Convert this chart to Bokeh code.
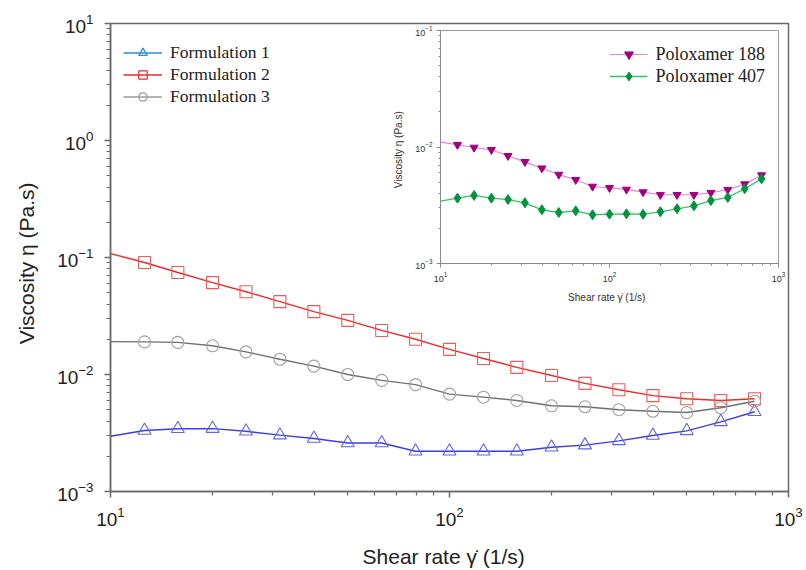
from bokeh.plotting import figure
from bokeh.models import FixedTicker, Legend, LegendItem, Range1d
from bokeh.embed import file_html
from bokeh.resources import INLINE

# ---------------- data ----------------
shear_rate = [10, 12.6, 15.8, 20, 25.1, 31.6, 39.8, 50.1, 63.1, 79.4,
              100, 126, 158, 200, 251, 316, 398, 501, 631, 794]

formulation_1 = [0.00297, 0.00332, 0.00344, 0.00345, 0.00327, 0.00303, 0.00284, 0.00260, 0.00260, 0.00221,
                 0.00221, 0.00221, 0.00221, 0.00239, 0.00249, 0.00271, 0.00301, 0.00330, 0.00394, 0.00480]
formulation_2 = [0.108, 0.0906, 0.0745, 0.0610, 0.0510, 0.0420, 0.0345, 0.0290, 0.0238, 0.0200,
                 0.0164, 0.0137, 0.0115, 0.0098, 0.0084, 0.0074, 0.0066, 0.0062, 0.0060, 0.0062]
formulation_3 = [0.0191, 0.0190, 0.0188, 0.0176, 0.0156, 0.0135, 0.0118, 0.0100, 0.0089, 0.0082,
                 0.0068, 0.0064, 0.0060, 0.0054, 0.0053, 0.0050, 0.00485, 0.00473, 0.0052, 0.0059]

poloxamer_188 = [0.0110, 0.01045, 0.0099, 0.00946, 0.0084, 0.00746, 0.00657, 0.0058, 0.00523, 0.00458,
                 0.00446, 0.00432, 0.0041, 0.00389, 0.00389, 0.00389, 0.00405, 0.0043, 0.0048, 0.00573]
poloxamer_407 = [0.00343, 0.00364, 0.00384, 0.00364, 0.00354, 0.00332, 0.00289, 0.00274, 0.00283, 0.00262,
                 0.00265, 0.00267, 0.00265, 0.00278, 0.00295, 0.00313, 0.00347, 0.00369, 0.00438, 0.00533]

series_labels = ["Formulation 1", "Formulation 2", "Formulation 3"]
inset_labels = ["Poloxamer 188", "Poloxamer 407"]

x_major = [10, 100, 1000]
main_y_major = [1e-3, 1e-2, 1e-1, 1, 10]
inset_y_major = [1e-3, 1e-2, 1e-1]


def minor_ticks(majors):
    return [m * majors[i] for i in range(len(majors) - 1) for m in range(2, 10)]


SANS = "Liberation Sans"
SERIF = "Liberation Serif"
W, H = 806, 570
NAN = float("nan")

# ---------------- main ----------------
p = figure(width=W, height=H, x_axis_type="log", y_axis_type="log",
           x_range=Range1d(10, 1000), y_range=Range1d(1e-3, 10),
           output_backend="svg", toolbar_location=None,
           min_border_left=110, min_border_right=18, min_border_top=23, min_border_bottom=79)
p.xgrid.visible = False
p.ygrid.visible = False
p.outline_line_color = "#6a6a6a"
p.outline_line_width = 1.5
p.xaxis.ticker = FixedTicker(ticks=x_major, minor_ticks=minor_ticks(x_major))
p.yaxis.ticker = FixedTicker(ticks=main_y_major, minor_ticks=minor_ticks(main_y_major))
for ax in (p.xaxis, p.yaxis):
    ax.axis_line_color = "#6a6a6a"
    ax.axis_line_width = 1.5
    ax.major_tick_line_color = "#6a6a6a"
    ax.minor_tick_line_color = "#6a6a6a"
    ax.major_tick_line_width = 1.5
    ax.minor_tick_line_width = 1.2
    ax.major_tick_out = 6
    ax.major_tick_in = 0
    ax.minor_tick_out = 4
    ax.minor_tick_in = 0
    ax.major_label_text_font = SANS
    ax.major_label_text_font_size = "19px"
    ax.major_label_text_color = "#222222"
    ax.axis_label_text_font = SANS
    ax.axis_label_text_font_size = "21px"
    ax.axis_label_text_font_style = "normal"
    ax.axis_label_text_color = "#222222"
p.xaxis.major_label_standoff = 9
p.yaxis.major_label_standoff = 11
p.xaxis.axis_label = "Shear rate  γ̇  (1/s)"
p.yaxis.axis_label = "Viscosity  η  (Pa.s)"
p.xaxis.axis_label_standoff = 16
p.yaxis.axis_label_standoff = 16

p.line(shear_rate, formulation_1, line_color="#3c3ce6", line_width=1.4)
p.scatter(shear_rate[1:], formulation_1[1:], marker="triangle", size=13,
          fill_color=None, line_color="#6262f0", line_width=1.1)
p.line(shear_rate, formulation_2, line_color="#ee2a2a", line_width=1.4)
p.scatter(shear_rate[1:], formulation_2[1:], marker="square", size=12,
          fill_color=None, line_color="#f05a5a", line_width=1.1)
p.line(shear_rate, formulation_3, line_color="#707070", line_width=1.4)
p.scatter(shear_rate[1:], formulation_3[1:], marker="circle", size=12,
          fill_color=None, line_color="#a0a0a0", line_width=1.1)

# legend swatches styled as in the original key (not drawn on the plot: NaN data)
k1l = p.line(x=[NAN], y=[NAN], line_color="#2a8fd6", line_width=1.4)
k1m = p.scatter(x=[NAN], y=[NAN], marker="triangle", fill_color=None, line_color="#2a8fd6", line_width=1.2)
k2l = p.line(x=[NAN], y=[NAN], line_color="#ee2a2a", line_width=1.4)
k2m = p.scatter(x=[NAN], y=[NAN], marker="square", fill_color=None, line_color="#ee2a2a", line_width=1.2)
k3l = p.line(x=[NAN], y=[NAN], line_color="#9a9a9a", line_width=1.4)
k3m = p.scatter(x=[NAN], y=[NAN], marker="circle", fill_color=None, line_color="#9a9a9a", line_width=1.2)

main_legend = Legend(items=[LegendItem(label=series_labels[0], renderers=[k1l, k1m]),
                            LegendItem(label=series_labels[1], renderers=[k2l, k2m]),
                            LegendItem(label=series_labels[2], renderers=[k3l, k3m])],
                     location=(13, 384), margin=0, padding=0, spacing=1,
                     label_height=21, glyph_height=21, glyph_width=39, label_standoff=8,
                     label_text_font=SERIF, label_text_font_size="17.5px", label_text_color="#222222",
                     border_line_alpha=0, background_fill_alpha=0)
p.add_layout(main_legend)

# ---------------- inset (same canvas size, overlaid on top, transparent) ----------------
inset = figure(width=W, height=H, x_axis_type="log", y_axis_type="log",
               x_range=Range1d(10, 1000), y_range=Range1d(1e-3, 1e-1),
               output_backend="svg", toolbar_location=None,
               min_border_left=440, min_border_right=28, min_border_top=30, min_border_bottom=307,
               styles={"position": "absolute", "top": "0px", "left": "0px"})
inset.background_fill_alpha = 0
inset.border_fill_alpha = 0
inset.xgrid.visible = False
inset.ygrid.visible = False
inset.outline_line_color = "#9a9a9a"
inset.outline_line_width = 1
inset.xaxis.ticker = FixedTicker(ticks=x_major, minor_ticks=minor_ticks(x_major))
inset.yaxis.ticker = FixedTicker(ticks=inset_y_major, minor_ticks=minor_ticks(inset_y_major))
for ax in (inset.xaxis, inset.yaxis):
    ax.axis_line_color = "#8a8a8a"
    ax.major_tick_line_color = "#8a8a8a"
    ax.minor_tick_line_color = "#8a8a8a"
    ax.major_tick_out = 4
    ax.major_tick_in = 0
    ax.minor_tick_out = 2
    ax.minor_tick_in = 0
    ax.major_label_text_font = SANS
    ax.major_label_text_font_size = "9px"
    ax.major_label_text_color = "#333333"
    ax.axis_label_text_font = SANS
    ax.axis_label_text_font_size = "10px"
    ax.axis_label_text_font_style = "normal"
    ax.axis_label_text_color = "#333333"
inset.xaxis.major_label_standoff = 4
inset.yaxis.major_label_standoff = 4
inset.xaxis.axis_label = "Shear rate  γ̇  (1/s)"
inset.yaxis.axis_label = "Viscosity  η  (Pa.s)"
inset.xaxis.axis_label_standoff = 7
inset.yaxis.axis_label_standoff = 8

l188 = inset.line(shear_rate, poloxamer_188, line_color="#f07fd2", line_width=1.2)
m188 = inset.scatter(shear_rate[1:], poloxamer_188[1:], marker="inverted_triangle", size=8,
                     fill_color="#a3007f", line_color="#a3007f")
l407 = inset.line(shear_rate, poloxamer_407, line_color="#2fc46a", line_width=1.3)
m407 = inset.scatter(shear_rate[1:], poloxamer_407[1:], marker="diamond", size=10,
                     fill_color="#00953d", line_color="#00953d")

inset_legend = Legend(items=[LegendItem(label=inset_labels[0], renderers=[l188, m188]),
                             LegendItem(label=inset_labels[1], renderers=[l407, m407])],
                      location="top_right", margin=13, padding=0, spacing=0,
                      label_height=22, glyph_height=22, glyph_width=38, label_standoff=8,
                      label_text_font=SERIF, label_text_font_size="18px", label_text_color="#222222",
                      border_line_alpha=0, background_fill_alpha=0)
inset.add_layout(inset_legend)

open("out.html", "w").write(file_html([p, inset], INLINE))
